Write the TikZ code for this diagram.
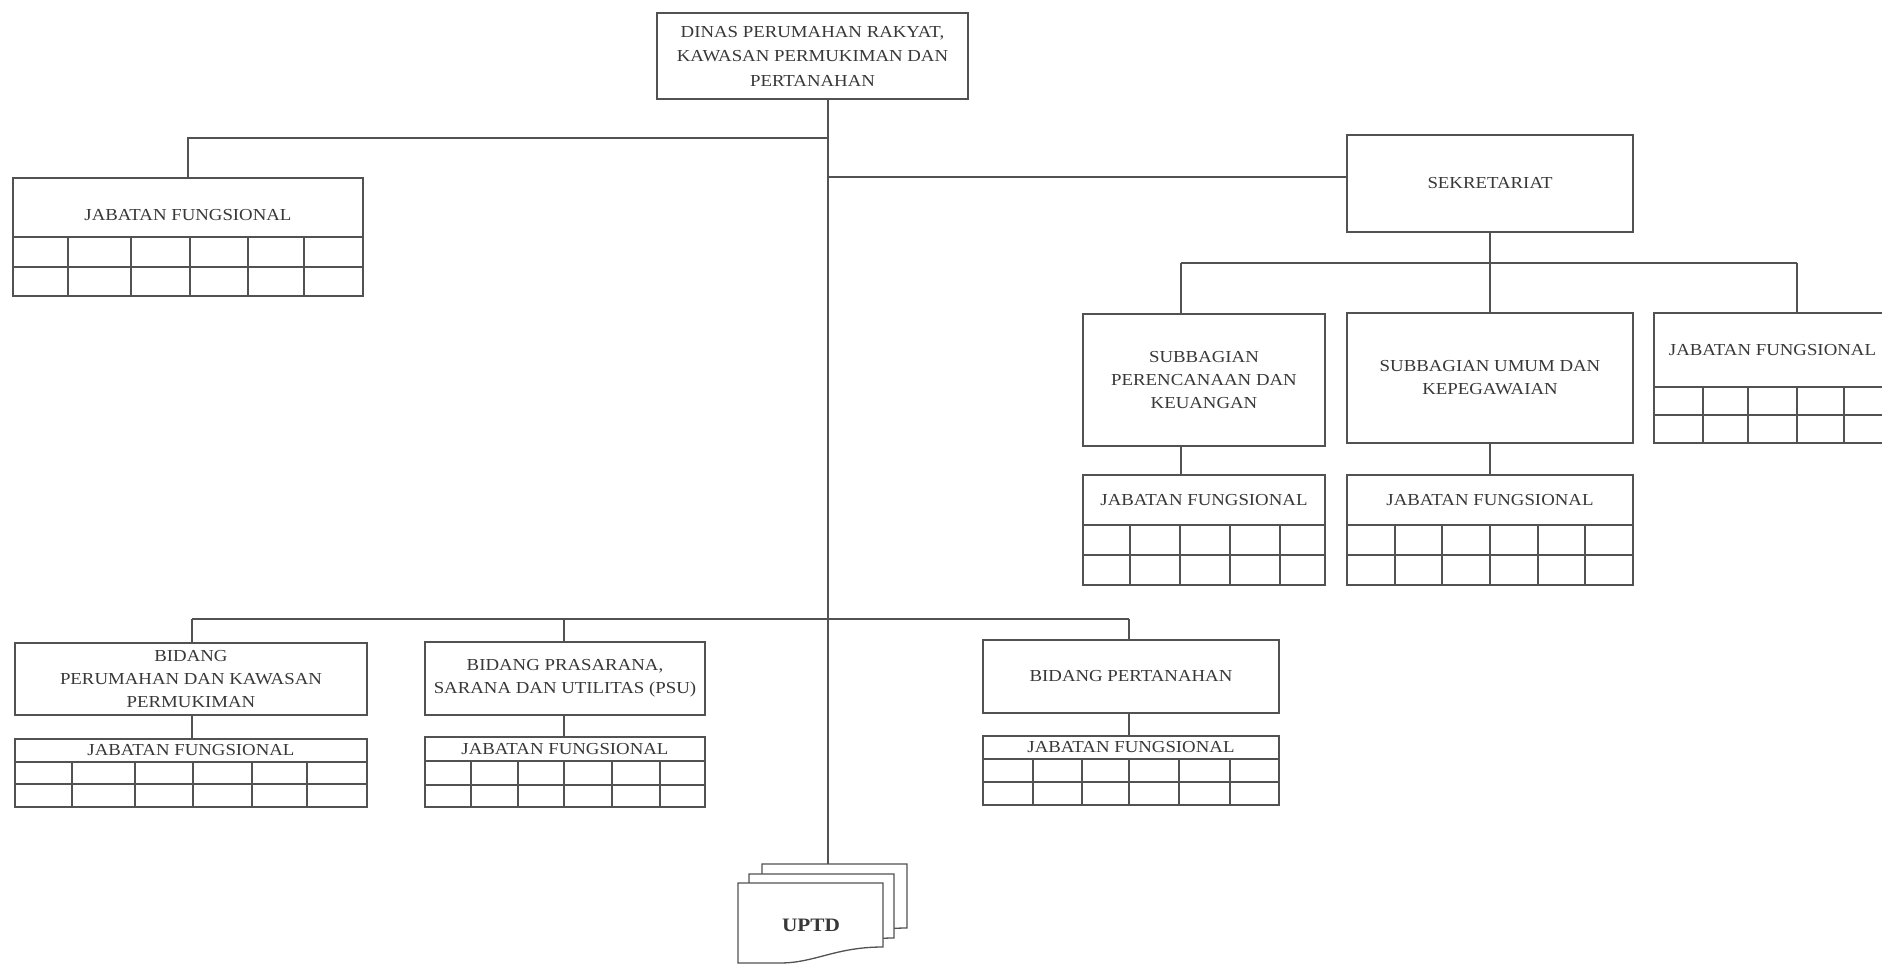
\documentclass[tikz,border=0pt]{standalone}
\usepackage{fontspec}
\setmainfont{Liberation Serif}[FakeStretch=1.12]
\definecolor{ink}{gray}{0.32}
\definecolor{txtc}{gray}{0.22}
\tikzset{
  ln/.style={draw=ink, line width=1.3pt},
  blk/.style={rectangle, draw=ink, line width=1.3pt, inner sep=0pt, fill=white},
  txt/.style={text=txtc, font=\fontsize{16.8}{23}\selectfont, align=center, inner sep=0pt},
}
% box node: name, x0, x1, y0, y1, text
\newcommand{\orgbox}[6]{%
  \pgfmathsetmacro\bw{#3-#2}\pgfmathsetmacro\bh{#5-#4}%
  \node[blk, txt, minimum width=\bw pt, minimum height=\bh pt] (#1) at ({(#2+#3)/2},{(#4+#5)/2}) {#6};}
% JF block: name, x0, x1, ytop, ytitle, ymid, ybot, cols, text y
\newcommand{\jfblock}[9]{%
  \pgfmathsetmacro\jw{#3-#2}\pgfmathsetmacro\jh{#7-#4}%
  \node[blk, minimum width=\jw pt, minimum height=\jh pt] (#1) at ({(#2+#3)/2},{(#4+#7)/2}) {};
  \node[txt] (#1t) at ({(#2+#3)/2},#9) {JABATAN FUNGSIONAL};
  \draw[ln] (#2,#5) -- (#3,#5) (#2,#6) -- (#3,#6);
  \foreach \cx in {#8} {\draw[ln] (\cx,#5) -- (\cx,#7);}
}
\newcommand{\docsheet}[2]{%
  \draw[ln, fill=white, shift={(#1,#2)}] (738,883) -- (883,883) -- (883,947)
    .. controls (835,947) and (815,963) .. (780,963) -- (738,963) -- cycle;}
\begin{document}
\begin{tikzpicture}[x=1pt,y=-1pt]
\useasboundingbox (0,0) rectangle (1882,965);
\clip (0,0) rectangle (1882,965);

% top
\node[blk, txt, font=\fontsize{16.8}{24.5}\selectfont, minimum width=311pt, minimum height=86pt] (dinas) at (812.5,56)
  {DINAS PERUMAHAN RAKYAT,\\KAWASAN PERMUKIMAN DAN\\PERTANAHAN};

% left JF
\jfblock{jfL}{13}{363}{178}{237}{267}{296}{68,131,190,248,304}{215}

% sekretariat
\orgbox{sek}{1347}{1633}{135}{232}{SEKRETARIAT}
\orgbox{sub1}{1083}{1325}{314}{446}{SUBBAGIAN\\PERENCANAAN DAN\\KEUANGAN}
\orgbox{sub2}{1347}{1633}{313}{443}{SUBBAGIAN UMUM DAN\\KEPEGAWAIAN}
\jfblock{jf1}{1083}{1325}{475}{525}{555}{585}{1130,1180,1230,1280}{500}
\jfblock{jf2}{1347}{1633}{475}{525}{555}{585}{1395,1442,1490,1538,1585}{500}
\jfblock{jfR}{1654}{1891}{313}{387}{415}{443}{1703,1748,1797,1844}{350}

% bidang
\orgbox{b1}{15}{367}{643}{715}{BIDANG\\PERUMAHAN DAN KAWASAN\\PERMUKIMAN}
\orgbox{b2}{425}{705}{642}{715}{BIDANG PRASARANA,\\SARANA DAN UTILITAS (PSU)}
\orgbox{b3}{983}{1279}{640}{713}{BIDANG PERTANAHAN}
\jfblock{jfb1}{15}{367}{739}{762}{784}{807}{72,135,193,252,307}{750.5}
\jfblock{jfb2}{425}{705}{737}{761}{785}{807}{471,518,564,612,660}{749}
\jfblock{jfb3}{983}{1279}{736}{759}{782}{805}{1033,1082,1129,1179,1230}{747.5}

% UPTD
\docsheet{24}{-19}
\docsheet{11}{-9}
\docsheet{0}{0}
\node[txt, font=\bfseries\fontsize{19}{22}\selectfont] (uptd) at (811,925) {UPTD};

% connectors
\coordinate (uptdtop) at (828,864);
\draw[ln] (dinas.south -| uptdtop) -- (uptdtop);
\coordinate (jl) at (828,138);
\draw[ln] (jl) -| (jfL.north);
\coordinate (jr) at (828,177);
\draw[ln] (jr) -- (jr -| sek.west);

\coordinate (js) at (1490,263);
\coordinate (jsL) at (1181,263);
\coordinate (jsR) at (1797,263);
\draw[ln] (sek.south) -- (js);
\draw[ln] (jsL) -- (jsR);
\draw[ln] (jsL) -- (jsL |- sub1.north);
\draw[ln] (js) -- (sub2.north);
\draw[ln] (jsR) -- (jsR |- jfR.north);
\draw[ln] (jsL |- sub1.south) -- (jsL |- jf1.north);
\draw[ln] (sub2.south) -- (jf2.north);

\coordinate (jbL) at (192,619);
\coordinate (jbM) at (564,619);
\coordinate (jbR) at (1129,619);
\draw[ln] (jbL) -- (jbR);
\draw[ln] (jbL) -- (jbL |- b1.north);
\draw[ln] (jbL |- b1.south) -- (jbL |- jfb1.north);
\draw[ln] (jbM) -- (jbM |- b2.north);
\draw[ln] (jbM |- b2.south) -- (jbM |- jfb2.north);
\draw[ln] (jbR) -- (jbR |- b3.north);
\draw[ln] (jbR |- b3.south) -- (jbR |- jfb3.north);
\end{tikzpicture}
\end{document}
